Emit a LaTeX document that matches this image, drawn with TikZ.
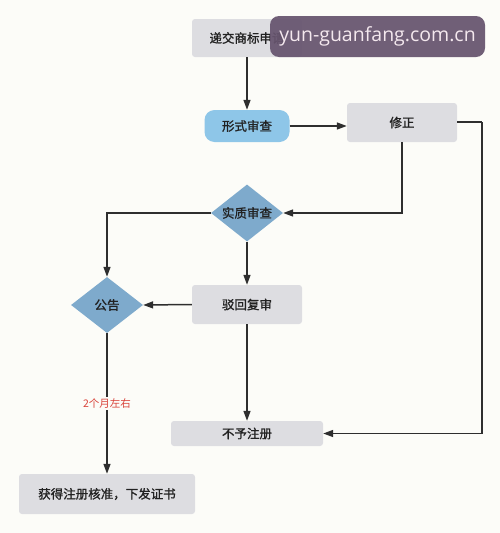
\documentclass[tikz,border=0pt]{standalone}
\usepackage{fontspec}
\setmainfont{Noto Sans CJK SC}[AutoFakeBold=1.2]
\newfontfamily\wmfont{Open Sans}
\usetikzlibrary{shapes.geometric,arrows.meta}
\definecolor{bgc}{HTML}{FCFCF8}
\definecolor{boxg}{HTML}{DDDDE1}
\definecolor{pillb}{HTML}{8EC6E8}
\definecolor{diab}{HTML}{7EAACC}
\definecolor{linec}{HTML}{2E2E2E}
\definecolor{txtc}{HTML}{222222}
\definecolor{wmc}{HTML}{66546E}
\definecolor{wmt}{HTML}{F4E8EE}
\definecolor{redl}{HTML}{D9433A}
\tikzset{
  lblfont/.style={font=\fontsize{12.5}{14}\selectfont\bfseries},
  graybox/.style={rectangle, rounded corners=3pt, fill=boxg, draw=none, text=txtc, inner sep=0pt, lblfont},
  pill/.style={rectangle, rounded corners=10pt, fill=pillb, draw=none, text=txtc, inner sep=0pt, minimum width=85pt, minimum height=32pt, lblfont},
  dia/.style={diamond, aspect=1.25, fill=diab, draw=none, text=txtc, inner sep=0pt, lblfont},
  arr/.style={draw=linec, line width=1.5pt, -{Triangle[length=10pt,width=7pt]}},
  ln/.style={draw=linec, line width=1.5pt},
}
\begin{document}
\begin{tikzpicture}[x=1pt,y=-1pt]
\fill[bgc] (0,0) rectangle (500,533);
\useasboundingbox (0,0) rectangle (500,533);
% nodes
\node[graybox, minimum width=110pt, minimum height=38pt] (sub) at (247,38) {递交商标申请};
\node[pill] (xs) at (247,126) {形式审查};
\node[graybox, minimum width=110pt, minimum height=39pt] (xz) at (402,122.5) {修正};
\node[dia, minimum width=72pt, minimum height=57pt] (sz) at (247,213) {实质审查};
\node[dia, minimum width=72pt, minimum height=56pt] (gg) at (107,305) {公告};
\node[graybox, minimum width=110pt, minimum height=39pt] (bh) at (247,304.5) {驳回复审};
\node[graybox, minimum width=152pt, minimum height=25pt] (by) at (247,433.5) {不予注册};
\node[graybox, minimum width=176pt, minimum height=40pt] (hd) at (107,494) {获得注册核准，下发证书};
\coordinate (rc) at (482,122);
% connectors
\draw[arr] (sub) -- (xs);
\draw[arr] (xs.east) -- (xz.west |- xs.east);
\draw[arr] (xz.south) |- (sz.east);
\draw[arr] (sz.west) -| (gg.north);
\draw[arr] (sz.south) -- (bh.north);
\draw[arr] (bh.west) -- (gg.east);
\draw[arr] (bh.south) -- (by.north);
\draw[ln] (xz.east |- rc) -- (rc);
\draw[arr] (rc) |- (by.east);
\draw[arr] (gg.south) -- node[pos=0.5, fill=bgc, inner sep=1.5pt, text=redl, font=\fontsize{10.5}{12}\selectfont] (lbl) {2个月左右} (hd.north);
% watermark
\node[rectangle, rounded corners=9pt, fill=wmc, fill opacity=0.93, text opacity=1, text=wmt, minimum width=215pt, minimum height=41pt, inner sep=0pt, font=\wmfont\fontsize{19.5}{22}\selectfont] (wm) at (377.5,36.5) {yun-guanfang.com.cn};
\end{tikzpicture}
\end{document}
